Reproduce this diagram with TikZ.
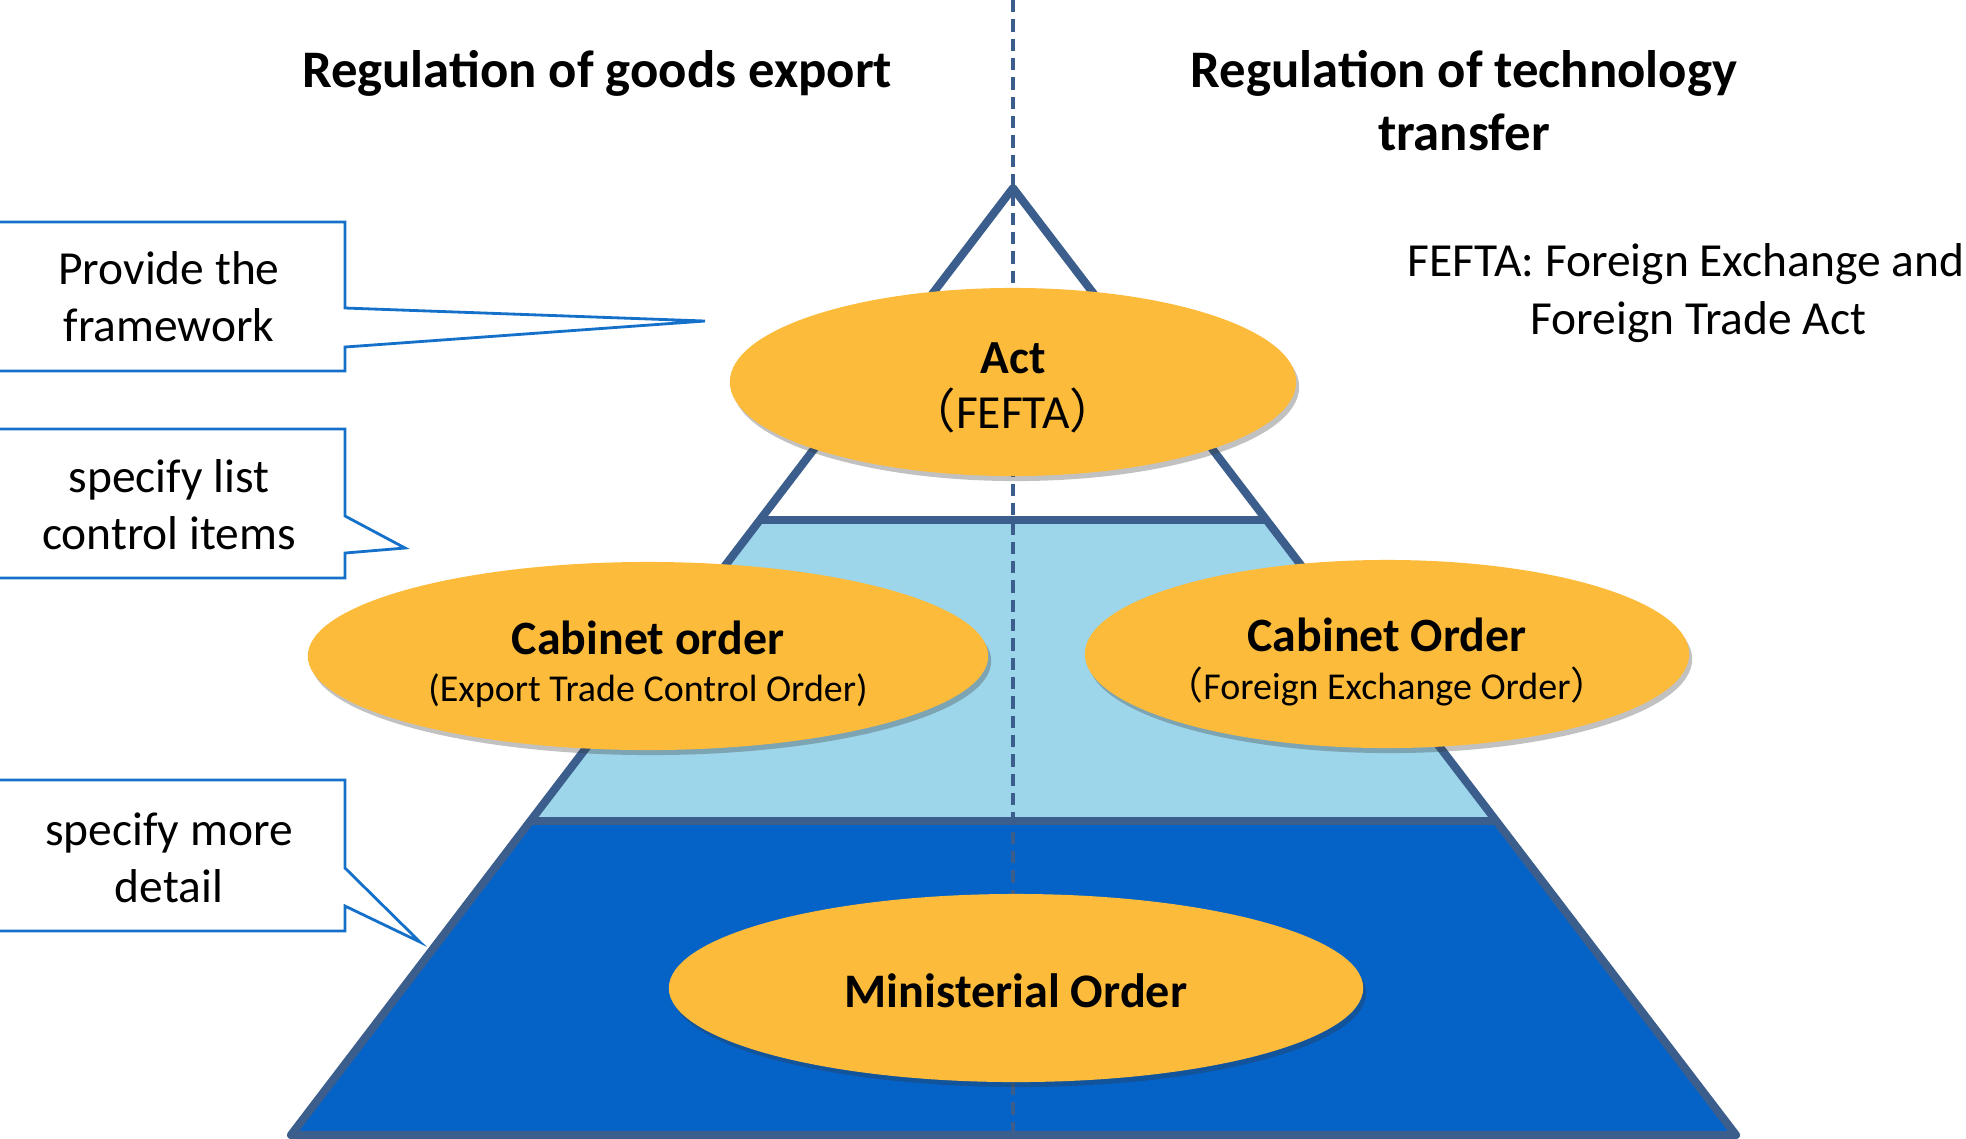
\documentclass[tikz,border=0pt]{standalone}
\usepackage{fontspec}
\setmainfont{Carlito}
\newfontfamily\cjk{Noto Sans CJK JP}
\usetikzlibrary{shapes.geometric,shadows}

\definecolor{lawgold}{HTML}{FCBB3B}
\definecolor{orderblue}{HTML}{9DD5EA}
\definecolor{ministryblue}{HTML}{0563C8}
\definecolor{edgeblue}{HTML}{3B5E8C}
\definecolor{noteblue}{HTML}{1470C8}

\begin{document}
\begin{tikzpicture}[x=0.01cm,y=-0.01cm,
    law/.style={ellipse,fill=lawgold,inner sep=0pt,minimum height=1.88cm,
        drop shadow={shadow xshift=0.03cm,shadow yshift=-0.05cm,opacity=0.3,fill=black!80}},
    lawtext/.style={align=center,inner sep=0pt},
    note/.style={draw=noteblue,line width=0.8pt},
    notetext/.style={align=center,font=\fontsize{13.5}{16.3}\selectfont},
    heading/.style={align=center,font=\fontsize{15}{17.9}\selectfont\bfseries},
    level/.style={draw=edgeblue,line width=2.3pt,line join=round}]
\useasboundingbox (0,0) rectangle (1966,1138);

\coordinate (apex) at (1013,188);
\coordinate (l1) at (760,520);
\coordinate (r1) at (1266,520);
\coordinate (l2) at (530,821);
\coordinate (r2) at (1496,821);
\coordinate (l3) at (291,1135);
\coordinate (r3) at (1736,1135);

\fill[orderblue] (l1) -- (r1) -- (r2) -- (l2) -- cycle;
\fill[ministryblue] (l2) -- (r2) -- (r3) -- (l3) -- cycle;
\draw[level] (apex) -- (r3) -- (l3) -- cycle;
\draw[level] (l1) -- (r1);
\draw[level] (l2) -- (r2);
\draw[edgeblue,line width=1.2pt,dash pattern=on 3.5pt off 2pt] (1013,0) -- (1013,1138);

\node[heading] (goods) at (597,73) {Regulation of goods export};
\node[heading] (tech) at (1464,101) {Regulation of technology\\transfer};
\node[notetext] (fefta) at (1686,293) {FEFTA: Foreign Exchange and\\\hspace*{0.25cm}Foreign Trade Act};

\node[law,minimum width=5.66cm] (act) at (1013,382) {};
\node[law,minimum width=6.8cm] (cabgoods) at (648,656) {};
\node[law,minimum width=6.04cm] (cabtech) at (1387,654) {};
\node[law,minimum width=6.94cm] (ministry) at (1016,988) {};

\node[lawtext,font=\fontsize{13.5}{15.6}\selectfont] (acttext) at ([yshift=-0.06cm]act.center)
    {\textbf{Act}\\{\cjk （}FEFTA{\cjk ）}};
\node[lawtext,font=\fontsize{13.6}{13.4}\selectfont] (cabgoodstext) at ([yshift=-0.08cm]cabgoods.center)
    {\textbf{Cabinet order}\\{\fontsize{10.8}{13}\selectfont (Export Trade Control Order)}};
\node[lawtext,font=\fontsize{13.6}{13.4}\selectfont] (cabtechtext) at ([yshift=-0.08cm]cabtech.center)
    {\textbf{Cabinet Order}\\{\fontsize{10.8}{13}\selectfont{\cjk （}Foreign Exchange Order{\cjk ）}}};
\node[lawtext,font=\fontsize{13.7}{16}\selectfont\bfseries] (ministrytext) at ([yshift=-0.03cm]ministry.center)
    {Ministerial Order};

\draw[note] (-5,222) -- (345,222) -- (345,308) -- (705,321) -- (345,347) -- (345,371) -- (-5,371);
\draw[note] (-5,429) -- (345,429) -- (345,516) -- (405,548) -- (345,553) -- (345,578) -- (-5,578);
\draw[note] (-5,780) -- (345,780) -- (345,868) -- (420,942) -- (345,906) -- (345,931) -- (-5,931);
\node[notetext] (frame) at (169,297) {Provide the\\framework};
\node[notetext] (items) at (169,505) {specify list\\control items};
\node[notetext] (detail) at (169,858) {specify more\\detail};
\end{tikzpicture}
\end{document}
